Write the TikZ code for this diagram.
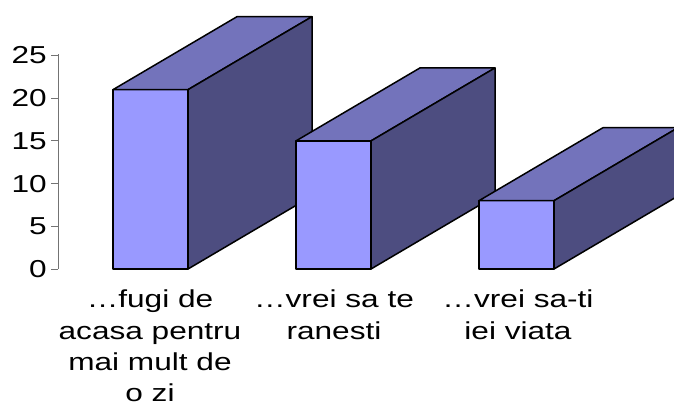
\documentclass[tikz,border=0pt]{standalone}
\usepackage{fontspec}
\setmainfont{Liberation Sans}[FakeStretch=1.29]
\usepackage{tikz}

\definecolor{barfront}{RGB}{153,153,255}
\definecolor{bartop}{RGB}{115,115,187}
\definecolor{barside}{RGB}{77,77,128}

\begin{document}
\begin{tikzpicture}[x=1pt, y=-1pt,
	axis/.style={draw=black!55, line width=1pt},
	bar/.style={draw=black, line width=1.5pt, line join=round},
	lbl/.style={inner sep=0pt, align=center, font=\fontsize{24.5}{31.3}\selectfont}]
	\useasboundingbox (0,0) rectangle (674,407);
	\clip (0,0) rectangle (674,407);

	% Draw axis
	\draw[axis] (58,54) -- (58,269);
	\foreach \v in {0,5,...,25}{
		\draw[axis] (51,{269-8.54*\v}) -- (58,{269-8.54*\v});
		\node[lbl, anchor=east] (tick\v) at (47,{269-8.54*\v}) {\v};
	}

	% Plot bars (front, top, side)
	\foreach \x/\v in {113/21, 296/15, 479/8}{
		\pgfmathsetmacro{\t}{269-8.54*\v}
		\draw[bar, fill=barfront] (\x,\t) rectangle ({\x+75},269);
		\draw[bar, fill=bartop] (\x,\t) -- ({\x+124},{\t-73}) -- ({\x+199},{\t-73}) -- ({\x+75},\t) -- cycle;
		\draw[bar, fill=barside] ({\x+75},\t) -- ({\x+199},{\t-73}) -- ({\x+199},196) -- ({\x+75},269) -- cycle;
	}

	%Add category labels
	\node[lbl, anchor=north] (fugi) at (150,290) {…fugi de\\acasa pentru\\mai mult de\\o zi};
	\node[lbl, anchor=north] (ranesti) at (334,290) {…vrei sa te\\ranesti};
	\node[lbl, anchor=north] (viata) at (518,290) {…vrei sa-ti\\iei viata};
\end{tikzpicture}
\end{document}
